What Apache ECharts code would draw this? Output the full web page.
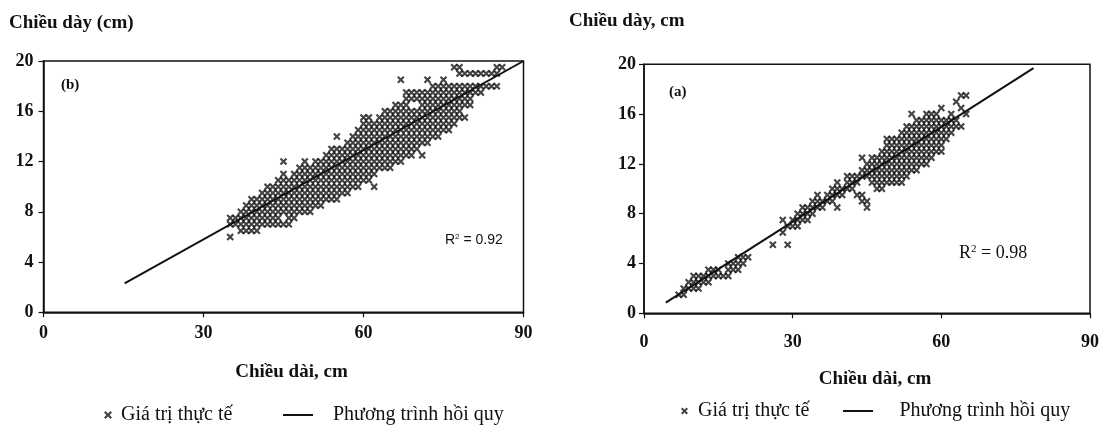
<!DOCTYPE html>
<html>
<head>
<meta charset="utf-8">
<script src="https://cdn.jsdelivr.net/npm/echarts@6/dist/echarts.min.js"></script>
<style>
  html, body { margin: 0; padding: 0; background: #fff; }
  #charts { width: 1102px; height: 428px; }
</style>
</head>
<body>
<div id="charts"></div>
<script>
// (b) chiều dài (x, cm) -> các giá trị chiều dày đo được (cm)
var samplesB = [
  [35, [6, 7, 7.5]],
  [36, [7, 7.5]],
  [37, [6.5, 7, 7.5, 8]],
  [38, [6.5, 7, 7.5, 8, 8.5]],
  [39, [6.5, 7, 7.5, 8, 8.5, 9]],
  [40, [6.5, 7, 7.5, 8, 8.5, 9]],
  [41, [7, 7.5, 8, 8.5, 9, 9.5]],
  [42, [7, 7.5, 8, 8.5, 9, 9.5, 10]],
  [43, [7, 7.5, 8, 8.5, 9, 9.5, 10]],
  [44, [7, 7.5, 8, 8.5, 9, 9.5, 10, 10.5]],
  [45, [7, 8, 8.5, 9, 9.5, 10, 10.5, 11, 12]],
  [46, [7, 7.5, 8, 8.5, 9, 9.5, 10, 10.5]],
  [47, [7.5, 8, 8.5, 9, 9.5, 10, 10.5, 11]],
  [48, [8, 8.5, 9, 9.5, 10, 10.5, 11, 11.5]],
  [49, [8, 8.5, 9, 9.5, 10, 10.5, 11, 11.5, 12]],
  [50, [8, 8.5, 9, 9.5, 10, 10.5, 11, 11.5]],
  [51, [8.5, 9, 9.5, 10, 10.5, 11, 11.5, 12]],
  [52, [8.5, 9, 9.5, 10, 10.5, 11, 11.5, 12]],
  [53, [9, 9.5, 10, 10.5, 11, 11.5, 12, 12.5]],
  [54, [9, 9.5, 10, 10.5, 11, 11.5, 12, 12.5, 13]],
  [55, [9, 9.5, 10, 10.5, 11, 11.5, 12, 12.5, 13, 14]],
  [56, [9.5, 10, 10.5, 11, 11.5, 12, 12.5, 13]],
  [57, [9.5, 10, 10.5, 11, 11.5, 12, 12.5, 13, 13.5]],
  [58, [10, 10.5, 11, 11.5, 12, 12.5, 13, 13.5, 14]],
  [59, [10, 10.5, 11, 11.5, 12, 12.5, 13, 13.5, 14, 14.5]],
  [60, [10.5, 11, 11.5, 12, 12.5, 13, 13.5, 14, 14.5, 15, 15.5]],
  [61, [10.5, 11, 11.5, 12, 12.5, 13, 13.5, 14, 14.5, 15, 15.5]],
  [62, [10, 11, 11.5, 12, 12.5, 13, 13.5, 14, 14.5, 15]],
  [63, [11.5, 12, 12.5, 13, 13.5, 14, 14.5, 15, 15.5]],
  [64, [11.5, 12, 12.5, 13, 13.5, 14, 14.5, 15, 15.5, 16]],
  [65, [11.5, 12, 12.5, 13, 13.5, 14, 14.5, 15, 15.5, 16]],
  [66, [12, 12.5, 13, 13.5, 14, 14.5, 15, 15.5, 16, 16.5]],
  [67, [12, 12.5, 13, 13.5, 14, 14.5, 15, 15.5, 16, 16.5, 18.5]],
  [68, [12.5, 13, 13.5, 14, 14.5, 15, 15.5, 16, 16.5, 17, 17.5]],
  [69, [12.5, 13, 13.5, 14, 14.5, 15, 15.5, 16, 17, 17.5]],
  [70, [13, 13.5, 14, 14.5, 15, 15.5, 16, 17, 17.5]],
  [71, [12.5, 13.5, 14, 14.5, 15, 15.5, 16, 16.5, 17, 17.5]],
  [72, [13.5, 14, 14.5, 15, 15.5, 16, 16.5, 17, 17.5, 18.5]],
  [73, [14, 14.5, 15, 15.5, 16, 16.5, 17, 17.5, 18]],
  [74, [14, 14.5, 15, 15.5, 16, 16.5, 17, 17.5, 18]],
  [75, [14.5, 15, 15.5, 16, 16.5, 17, 17.5, 18, 18.5]],
  [76, [14.5, 15, 15.5, 16, 16.5, 17, 17.5, 18]],
  [77, [15, 15.5, 16, 16.5, 17, 17.5, 18, 19.5]],
  [78, [15.5, 16, 16.5, 17, 17.5, 18, 19, 19.5]],
  [79, [15.5, 16.5, 17, 17.5, 18, 19]],
  [80, [16.5, 17, 17.5, 18, 19]],
  [81, [17.5, 18, 19]],
  [82, [17.5, 18, 19]],
  [83, [18, 19]],
  [84, [18, 19]],
  [85, [18, 19, 19.5]],
  [86, [19.5]]
];

// (a)
var samplesA = [
  [7, [1.5]],
  [8, [1.5, 2]],
  [9, [2, 2.5]],
  [10, [2, 2.5, 3]],
  [11, [2, 2.5, 3]],
  [12, [2.5, 3]],
  [13, [2.5, 3, 3.5]],
  [14, [3, 3.5]],
  [15, [3, 3.5]],
  [16, [3]],
  [17, [3, 3.5, 4]],
  [18, [3.5, 4]],
  [19, [3.5, 4, 4.5]],
  [20, [4, 4.5]],
  [21, [4.5]],
  [26, [5.5]],
  [28, [6.5, 7.5]],
  [29, [5.5, 7]],
  [30, [7, 7.5]],
  [31, [7, 7.5, 8]],
  [32, [7.5, 8, 8.5]],
  [33, [7.5, 8, 8.5]],
  [34, [8, 8.5, 9]],
  [35, [8.5, 9, 9.5]],
  [36, [8.5, 9]],
  [37, [9, 9.5]],
  [38, [9, 9.5, 10]],
  [39, [8.5, 9.5, 10, 10.5]],
  [40, [9.5, 10]],
  [41, [10, 10.5, 11]],
  [42, [10, 10.5, 11]],
  [43, [9.5, 10.5, 11]],
  [44, [9, 9.5, 11, 11.5, 12.5]],
  [45, [8.5, 9, 11, 11.5, 12]],
  [46, [10.5, 11, 11.5, 12, 12.5]],
  [47, [10, 10.5, 11, 11.5, 12, 12.5]],
  [48, [10, 10.5, 11, 11.5, 12, 12.5, 13]],
  [49, [10.5, 11, 11.5, 12, 12.5, 13, 13.5, 14]],
  [50, [10.5, 11, 11.5, 12, 12.5, 13, 13.5, 14]],
  [51, [10.5, 11, 11.5, 12, 12.5, 13, 13.5, 14]],
  [52, [10.5, 11, 11.5, 12, 12.5, 13, 13.5, 14, 14.5]],
  [53, [11, 11.5, 12, 12.5, 13, 13.5, 14, 14.5, 15]],
  [54, [11.5, 12, 12.5, 13, 13.5, 14, 14.5, 15, 16]],
  [55, [11.5, 12, 12.5, 13, 13.5, 14, 14.5, 15, 15.5]],
  [56, [12, 12.5, 13, 13.5, 14, 14.5, 15, 15.5]],
  [57, [12, 12.5, 13, 13.5, 14, 14.5, 15, 15.5, 16]],
  [58, [12.5, 13, 13.5, 14, 14.5, 15, 15.5, 16]],
  [59, [13, 13.5, 14, 14.5, 15, 15.5, 16]],
  [60, [13, 13.5, 14, 14.5, 15, 15.5, 16.5]],
  [61, [14, 14.5, 15, 15.5]],
  [62, [14.5, 15, 15.5, 16]],
  [63, [15, 15.5, 17]],
  [64, [15, 16.5, 17.5]],
  [65, [16, 17.5]]
];

// đường hồi quy (hai đầu mút)
var fitB = [[15.2, 2.3], [90, 20.0]];
var fitA = [[4.4, 0.85], [78.6, 19.7]];

var xTicks = { min: 0, max: 90, interval: 30 };
var yTicks = { min: 0, max: 20, interval: 4 };
var r2B = '0.92';
var r2A = '0.98';

var NAME_PTS = 'Giá trị thực tế';
var NAME_FIT = 'Phương trình hồi quy';
var crossIcon = 'path://M0,2L2,0L5,3L8,0L10,2L7,5L10,8L8,10L5,7L2,10L0,8L3,5Z';
var lineIcon = 'path://M0,0H30V2H0Z';
var serif = 'Liberation Serif';
var ink = '#111';

function flat(cols) {
  var out = [];
  cols.forEach(function (c) {
    c[1].forEach(function (y) { out.push([c[0], y]); });
  });
  return out;
}

function xAxisOf(idx, labelMargin, nameGap) {
  return {
    gridIndex: idx, type: 'value',
    min: xTicks.min, max: xTicks.max, interval: xTicks.interval,
    axisLine: { onZero: false, lineStyle: { color: ink, width: 1.5 } },
    axisTick: { length: 5, lineStyle: { color: ink, width: 1.2 } },
    axisLabel: { margin: labelMargin, color: ink, fontFamily: serif, fontWeight: 'bold', fontSize: 18 },
    splitLine: { show: false },
    name: 'Chiều dài, cm', nameLocation: 'middle', nameGap: nameGap,
    nameTextStyle: { color: ink, fontFamily: serif, fontWeight: 'bold', fontSize: 19, padding: [0, 0, 0, 16] }
  };
}
function yAxisOf(idx, labelMargin) {
  return {
    gridIndex: idx, type: 'value',
    min: yTicks.min, max: yTicks.max, interval: yTicks.interval,
    axisLine: { onZero: false, lineStyle: { color: ink, width: 1.5 } },
    axisTick: { length: 5, lineStyle: { color: ink, width: 1.2 } },
    axisLabel: { margin: labelMargin, color: ink, fontFamily: serif, fontWeight: 'bold', fontSize: 18 },
    splitLine: { show: false }
  };
}
function legendOf(left, top, name, icon, w, h, padLeft) {
  return {
    left: left, top: top, padding: 0, itemGap: 0,
    itemWidth: w, itemHeight: h, selectedMode: false,
    data: [{ name: name, icon: icon }],
    textStyle: { color: ink, fontFamily: serif, fontSize: 20, padding: [0, 0, 0, padLeft] }
  };
}

var chart = echarts.init(document.getElementById('charts'));
chart.setOption({
  animation: false,
  backgroundColor: '#fff',
  grid: [
    { left: 43.5, top: 61, width: 480, height: 251.3, show: true, borderColor: ink, borderWidth: 1.5 },
    { left: 644, top: 64.3, width: 453.6, height: 249, show: true, borderColor: ink, borderWidth: 1.5 }
  ],
  xAxis: [xAxisOf(0, 12, 50), xAxisOf(1, 20, 56)],
  yAxis: [yAxisOf(0, 10), yAxisOf(1, 8)],
  legend: [
    legendOf(104, 405, NAME_PTS, crossIcon, 8, 8, 4),
    legendOf(283, 405, NAME_FIT, lineIcon, 30, 2, 15),
    legendOf(681, 401, NAME_PTS, crossIcon, 7, 7, 5),
    legendOf(843, 401, NAME_FIT, lineIcon, 45, 2, 14)
  ],
  graphic: [
    { type: 'text', left: 9, top: 14, style: { text: 'Chiều dày (cm)', fill: ink, font: 'bold 19px "Liberation Serif"' } },
    { type: 'text', left: 569, top: 12, style: { text: 'Chiều dày, cm', fill: ink, font: 'bold 19px "Liberation Serif"' } },
    { type: 'text', left: 61, top: 78, style: { text: '(b)', fill: ink, font: 'bold 15px "Liberation Serif"' } },
    { type: 'text', left: 669, top: 85, style: { text: '(a)', fill: ink, font: 'bold 15px "Liberation Serif"' } },
    { type: 'text', left: 445, top: 233, style: {
        text: 'R{s|2} = ' + r2B, fill: ink, font: '14px "Liberation Sans"',
        rich: { s: { fontSize: 8, verticalAlign: 'top', padding: [0, 0, 6, 0], fontFamily: 'Liberation Sans' } } } },
    { type: 'text', left: 959, top: 244, style: {
        text: 'R{s|2} = ' + r2A, fill: ink, font: '18px "Liberation Serif"',
        rich: { s: { fontSize: 11, verticalAlign: 'top', padding: [0, 0, 7, 0], fontFamily: serif } } } }
  ],
  series: [
    { name: NAME_PTS, type: 'scatter', xAxisIndex: 0, yAxisIndex: 0, data: flat(samplesB),
      symbol: crossIcon, symbolSize: 7.5, itemStyle: { color: '#151515' }, z: 2 },
    { name: NAME_FIT, type: 'line', xAxisIndex: 0, yAxisIndex: 0, data: fitB,
      showSymbol: false, lineStyle: { color: ink, width: 2 }, itemStyle: { color: ink }, z: 3 },
    { name: NAME_PTS, type: 'scatter', xAxisIndex: 1, yAxisIndex: 1, data: flat(samplesA),
      symbol: crossIcon, symbolSize: 7.5, itemStyle: { color: '#151515' }, z: 2 },
    { name: NAME_FIT, type: 'line', xAxisIndex: 1, yAxisIndex: 1, data: fitA,
      showSymbol: false, lineStyle: { color: ink, width: 2 }, itemStyle: { color: ink }, z: 3 }
  ]
});
</script>
</body>
</html>
